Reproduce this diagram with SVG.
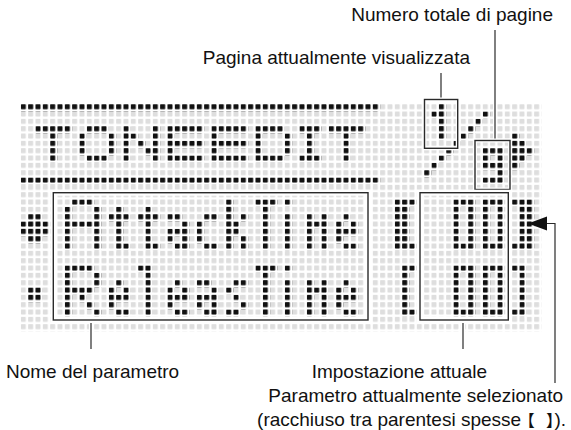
<svg xmlns="http://www.w3.org/2000/svg" width="571" height="430" viewBox="0 0 571 430">
<style>
.lbl{font-family:"Liberation Sans","Noto Sans CJK JP",Arial,sans-serif;font-size:19px;fill:#111}
.cjk{font-family:"Noto Sans CJK JP",sans-serif;font-feature-settings:"palt";font-size:16px}
.k rect{fill:url(#k)}
.halo{fill:none;stroke:#fff;stroke-width:6}
.halo2{fill:none;stroke:#fff;stroke-width:4}
.box{fill:none;stroke:#2a2a2a;stroke-width:1.4}
.ln{fill:none;stroke:#2a2a2a;stroke-width:1.2}
</style>
<defs>
<pattern id="g" patternUnits="userSpaceOnUse" width="1" height="1"><rect width="0.68" height="0.68" rx="0.08" fill="#dedede"/></pattern>
<pattern id="k" patternUnits="userSpaceOnUse" width="1" height="1"><rect width="0.68" height="0.68" rx="0.08" fill="#111"/></pattern>
</defs>
<rect width="571" height="430" fill="#fff"/>
<g id="lcd" transform="translate(20.83 104.17) scale(7.3333)">
<rect width="71" height="31" fill="url(#g)"/>
<g class="k">
<rect x="0" y="0" width="49" height="1"/><rect x="0" y="10" width="49" height="1"/>
<rect x="2" y="3" width="5" height="1"/><rect x="4" y="4" width="1" height="4"/>
<rect x="9" y="3" width="3" height="1"/><rect x="9" y="7" width="3" height="1"/><rect x="8" y="4" width="1" height="3"/><rect x="12" y="4" width="1" height="3"/>
<rect x="14" y="3" width="1" height="5"/><rect x="18" y="3" width="1" height="5"/><rect x="15" y="4" width="1" height="1"/><rect x="16" y="5" width="1" height="1"/><rect x="17" y="6" width="1" height="1"/>
<rect x="20" y="3" width="1" height="5"/><rect x="21" y="3" width="4" height="1"/><rect x="21" y="5" width="4" height="1"/><rect x="21" y="7" width="4" height="1"/>
<rect x="26" y="3" width="1" height="5"/><rect x="27" y="3" width="4" height="1"/><rect x="27" y="5" width="4" height="1"/><rect x="27" y="7" width="4" height="1"/>
<rect x="32" y="3" width="1" height="5"/><rect x="33" y="3" width="3" height="1"/><rect x="33" y="7" width="3" height="1"/><rect x="36" y="4" width="1" height="3"/>
<rect x="38" y="3" width="3" height="1"/><rect x="38" y="7" width="3" height="1"/><rect x="39" y="4" width="1" height="3"/>
<rect x="42" y="3" width="5" height="1"/><rect x="44" y="4" width="1" height="4"/>
<rect x="57" y="0" width="1" height="5"/><rect x="56" y="1" width="1" height="1"/>
<rect x="63" y="1" width="1" height="1"/><rect x="62" y="2" width="1" height="1"/><rect x="61" y="3" width="1" height="1"/><rect x="60" y="4" width="1" height="1"/><rect x="59" y="5" width="1" height="1"/><rect x="58" y="6" width="1" height="1"/><rect x="57" y="7" width="1" height="1"/><rect x="56" y="8" width="1" height="1"/><rect x="55" y="9" width="1" height="1"/>
<rect x="63" y="6" width="3" height="1"/><rect x="63" y="7" width="1" height="1"/><rect x="65" y="7" width="1" height="1"/><rect x="63" y="8" width="3" height="1"/><rect x="65" y="9" width="1" height="1"/><rect x="63" y="10" width="3" height="1"/>
<rect x="67" y="4" width="1" height="5"/><rect x="68" y="5" width="1" height="3"/><rect x="69" y="6" width="1" height="1"/>
<rect x="1" y="15" width="2" height="1"/><rect x="0" y="16" width="4" height="2"/><rect x="1" y="18" width="2" height="1"/>
<rect x="1" y="25" width="2" height="2"/>
<rect x="7" y="13" width="3" height="1"/><rect x="6" y="14" width="1" height="6"/><rect x="10" y="14" width="1" height="6"/><rect x="7" y="16" width="3" height="1"/>
<rect x="13" y="14" width="1" height="6"/><rect x="12" y="15" width="1" height="1"/><rect x="14" y="15" width="1" height="1"/><rect x="14" y="19" width="1" height="1"/>
<rect x="17" y="14" width="1" height="6"/><rect x="16" y="15" width="1" height="1"/><rect x="18" y="15" width="1" height="1"/><rect x="18" y="19" width="1" height="1"/>
<rect x="20" y="15" width="2" height="1"/><rect x="22" y="16" width="1" height="1"/><rect x="20" y="17" width="3" height="1"/><rect x="20" y="18" width="1" height="1"/><rect x="22" y="18" width="1" height="1"/><rect x="21" y="19" width="2" height="1"/>
<rect x="25" y="15" width="2" height="1"/><rect x="24" y="16" width="1" height="3"/><rect x="25" y="19" width="2" height="1"/>
<rect x="28" y="13" width="1" height="7"/><rect x="30" y="15" width="1" height="1"/><rect x="29" y="16" width="1" height="2"/><rect x="30" y="18" width="1" height="2"/>
<rect x="32" y="13" width="3" height="1"/><rect x="33" y="14" width="1" height="6"/>
<rect x="36" y="13" width="1" height="1"/><rect x="36" y="15" width="1" height="5"/>
<rect x="39" y="15" width="1" height="5"/><rect x="41" y="15" width="1" height="5"/><rect x="40" y="16" width="1" height="1"/>
<rect x="44" y="15" width="1" height="1"/><rect x="43" y="16" width="1" height="1"/><rect x="45" y="16" width="1" height="1"/><rect x="43" y="17" width="3" height="1"/><rect x="43" y="18" width="1" height="1"/><rect x="44" y="19" width="2" height="1"/>
<rect x="51" y="13" width="2" height="7"/><rect x="53" y="13" width="1" height="1"/><rect x="53" y="19" width="1" height="1"/>
<rect x="59" y="13" width="3" height="1"/><rect x="59" y="19" width="3" height="1"/><rect x="59" y="14" width="1" height="5"/><rect x="61" y="14" width="1" height="5"/>
<rect x="63" y="13" width="3" height="1"/><rect x="63" y="19" width="3" height="1"/><rect x="63" y="14" width="1" height="5"/><rect x="65" y="14" width="1" height="5"/>
<rect x="68" y="13" width="2" height="7"/><rect x="67" y="13" width="1" height="1"/><rect x="67" y="19" width="1" height="1"/>
<rect x="6" y="22" width="1" height="7"/><rect x="7" y="22" width="3" height="1"/><rect x="10" y="23" width="1" height="2"/><rect x="7" y="25" width="3" height="1"/><rect x="8" y="26" width="1" height="1"/><rect x="9" y="27" width="1" height="1"/><rect x="10" y="28" width="1" height="1"/>
<rect x="13" y="24" width="1" height="1"/><rect x="12" y="25" width="1" height="1"/><rect x="14" y="25" width="1" height="1"/><rect x="12" y="26" width="3" height="1"/><rect x="12" y="27" width="1" height="1"/><rect x="13" y="28" width="2" height="1"/>
<rect x="16" y="22" width="2" height="1"/><rect x="17" y="23" width="1" height="6"/>
<rect x="21" y="24" width="1" height="1"/><rect x="20" y="25" width="1" height="1"/><rect x="22" y="25" width="1" height="1"/><rect x="20" y="26" width="3" height="1"/><rect x="20" y="27" width="1" height="1"/><rect x="21" y="28" width="2" height="1"/>
<rect x="24" y="24" width="2" height="1"/><rect x="26" y="25" width="1" height="1"/><rect x="24" y="26" width="3" height="1"/><rect x="24" y="27" width="1" height="1"/><rect x="26" y="27" width="1" height="1"/><rect x="25" y="28" width="2" height="1"/>
<rect x="29" y="24" width="2" height="1"/><rect x="28" y="25" width="1" height="1"/><rect x="29" y="26" width="1" height="1"/><rect x="30" y="27" width="1" height="1"/><rect x="28" y="28" width="2" height="1"/>
<rect x="32" y="22" width="3" height="1"/><rect x="33" y="23" width="1" height="6"/>
<rect x="36" y="22" width="1" height="1"/><rect x="36" y="24" width="1" height="5"/>
<rect x="39" y="24" width="1" height="5"/><rect x="41" y="24" width="1" height="5"/><rect x="40" y="25" width="1" height="1"/>
<rect x="44" y="24" width="1" height="1"/><rect x="43" y="25" width="1" height="1"/><rect x="45" y="25" width="1" height="1"/><rect x="43" y="26" width="3" height="1"/><rect x="43" y="27" width="1" height="1"/><rect x="44" y="28" width="2" height="1"/>
<rect x="52" y="22" width="1" height="7"/><rect x="53" y="22" width="1" height="1"/><rect x="53" y="28" width="1" height="1"/>
<rect x="59" y="22" width="3" height="1"/><rect x="59" y="28" width="3" height="1"/><rect x="59" y="23" width="1" height="5"/><rect x="61" y="23" width="1" height="5"/>
<rect x="63" y="22" width="3" height="1"/><rect x="63" y="28" width="3" height="1"/><rect x="63" y="23" width="1" height="5"/><rect x="65" y="23" width="1" height="5"/>
<rect x="68" y="22" width="1" height="7"/><rect x="67" y="22" width="1" height="1"/><rect x="67" y="28" width="1" height="1"/>
</g>
</g>
<g id="connectors">
<line class="halo2" x1="495" y1="32" x2="495" y2="140.5"/>
<line class="ln" x1="495" y1="30" x2="495" y2="140.5"/>
<line class="halo2" x1="441" y1="75" x2="441" y2="99.5"/>
<line class="ln" x1="441" y1="73" x2="441" y2="99.5"/>
<line class="halo2" x1="91" y1="320" x2="91" y2="349"/>
<line class="ln" x1="91" y1="320" x2="91" y2="349"/>
<line class="halo2" x1="463" y1="320" x2="463" y2="349"/>
<line class="ln" x1="463" y1="320" x2="463" y2="349"/>
<polyline class="ln" points="546,223.5 555,223.5 555,383"/>
<polygon points="528,223.5 547,216.5 547,230.5" fill="#111"/>
</g>
<g id="box-page">
<rect class="halo2" x="424.5" y="99.5" width="33.2" height="48.8"/>
<rect class="box" x="424.5" y="99.5" width="33.2" height="48.8"/>
</g>
<g id="box-total">
<rect class="halo2" x="475" y="140.5" width="35" height="49"/>
<rect class="box" x="475" y="140.5" width="35" height="49"/>
</g>
<g id="box-name">
<rect class="halo" x="53.3" y="192.7" width="314.7" height="127.3"/>
<rect class="box" x="53.3" y="192.7" width="314.7" height="127.3"/>
</g>
<g id="box-value">
<rect class="halo" x="420" y="192.7" width="88.3" height="127.3"/>
<rect class="box" x="420" y="192.7" width="88.3" height="127.3"/>
</g>
<g id="labels">
<text class="lbl" x="553" y="21" text-anchor="end">Numero totale di pagine</text>
<text class="lbl" x="470" y="64" text-anchor="end">Pagina attualmente visualizzata</text>
<text class="lbl" x="6" y="378">Nome del parametro</text>
<text class="lbl" x="487" y="378" text-anchor="end">Impostazione attuale</text>
<text class="lbl" x="563" y="402" text-anchor="end">Parametro attualmente selezionato</text>
<text class="lbl" x="566" y="426" text-anchor="end">(racchiuso tra parentesi spesse <tspan class="cjk">【</tspan><tspan class="cjk" dx="12">】</tspan>).</text>
</g>
</svg>
